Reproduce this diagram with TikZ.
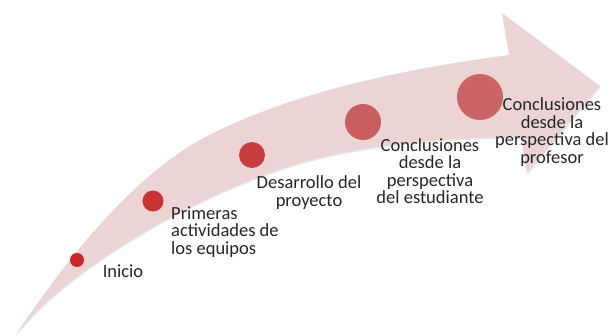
\documentclass[tikz,border=0pt]{standalone}
\usepackage{fontspec}
\setmainfont{Carlito}
\usetikzlibrary{shadows}
\definecolor{band}{RGB}{236,212,213}
\definecolor{txt}{RGB}{38,38,38}
\definecolor{cA}{RGB}{200,38,40}
\definecolor{cB}{RGB}{200,52,52}
\definecolor{cC}{RGB}{200,62,62}
\definecolor{cD}{RGB}{201,94,94}
\definecolor{cE}{RGB}{203,100,100}
\begin{document}
\begin{tikzpicture}[x=1pt,y=-1pt,
  dot/.style={circle, inner sep=0pt, minimum size=#1},
  lbl/.style={text=txt, font=\fontsize{18.5}{17.5}\selectfont, inner sep=0pt, align=center}]
\useasboundingbox (0,0) rectangle (611,336);
\fill[band, drop shadow={opacity=0.18, shadow xshift=0.5pt, shadow yshift=-1.5pt}]
  (15,336) .. controls (65,261) and (130,179) .. (200,140)
  .. controls (288,92) and (410,68) .. (509,55)
  -- (502,13) -- (600,86) -- (527,173) -- (521,137)
  .. controls (441,137) and (358,146) .. (300,163)
  .. controls (194,194) and (63,272) .. (15,336) -- cycle;
\node[dot=14pt, fill=cA] (d1) at (77,260) {};
\node[dot=21pt, fill=cB] (d2) at (153,201) {};
\node[dot=26pt, fill=cC] (d3) at (252,155) {};
\node[dot=36pt, fill=cD] (d4) at (363,122) {};
\node[dot=46pt, fill=cE] (d5) at (480,97) {};
\node[lbl] (l1) at (123,271) {Inicio};
\node[lbl, align=left, anchor=west] (l2) at (171,232) {Primeras\\actividades de\\los equipos};
\node[lbl] (l3) at (309,192.5) {Desarrollo del\\proyecto};
\node[lbl] (l4) at (430,171) {Conclusiones\\desde la\\perspectiva\\del estudiante};
\node[lbl] (l5) at (552,132) {Conclusiones\\desde la\\perspectiva del\\profesor};
\end{tikzpicture}
\end{document}
